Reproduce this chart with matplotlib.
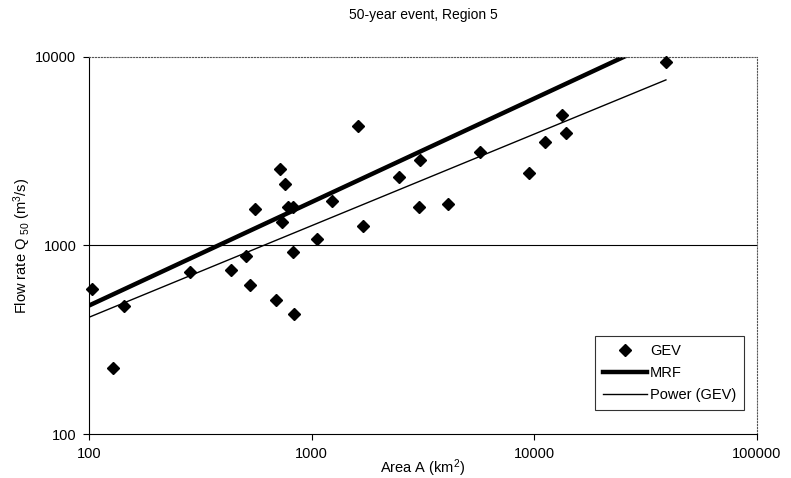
import matplotlib
matplotlib.use('Agg')
import matplotlib.pyplot as plt

plt.rcParams['font.family'] = ['Liberation Sans', 'DejaVu Sans']
plt.rcParams['mathtext.fontset'] = 'custom'
plt.rcParams['mathtext.rm'] = 'Liberation Sans'
plt.rcParams['mathtext.it'] = 'Liberation Sans'

# GEV estimates (area km2, Q50 m3/s)
gev_area = [103, 128, 143, 284, 434, 506, 530, 558, 692, 718, 761, 733, 785, 824,
            826, 833, 1057, 1237, 1615, 1694, 2472, 3080, 3020, 4075, 5700, 9420,
            11120, 13300, 13900, 39000]
gev_q = [587, 224, 477, 726, 741, 877, 615, 1556, 512, 2553, 2118, 1336, 1607, 1600,
         925, 434, 1082, 1722, 4305, 1265, 2317, 2845, 1600, 1660, 3133, 2426,
         3556, 4945, 3962, 9420]

# MRF line end points
mrf_area = [100, 30000]
mrf_q = [480, 11000]

# power trendline fitted to GEV, end points
pow_area = [100, 39000]
pow_q = [416, 7550]

fig = plt.figure(figsize=(7.91, 4.78), dpi=100)
ax = fig.add_axes([0.1125, 0.092, 0.8445, 0.789])

ax.plot(gev_area, gev_q, linestyle='none', marker='D', markersize=5.8,
        color='black', label='GEV', clip_on=False, zorder=3)
ax.plot(mrf_area, mrf_q, color='black', linewidth=3.2, label='MRF')
ax.plot(pow_area, pow_q, color='black', linewidth=1.0, label='Power (GEV)')

ax.set_xscale('log')
ax.set_yscale('log')
ax.set_xlim(100, 100000)
ax.set_ylim(100, 10000)
ax.set_xticks([100, 1000, 10000, 100000])
ax.set_xticklabels(['100', '1000', '10000', '100000'])
ax.set_yticks([100, 1000, 10000])
ax.set_yticklabels(['100', '1000', '10000'])
ax.minorticks_off()
ax.tick_params(labelsize=10.5, length=4, width=0.8, direction='out', pad=5)
ax.axhline(1000, color='black', linewidth=0.8, zorder=1)

for side in ['top', 'right']:
    ax.spines[side].set_linestyle(':')
    ax.spines[side].set_color('#555555')
    ax.spines[side].set_linewidth(0.8)
for side in ['left', 'bottom']:
    ax.spines[side].set_linewidth(0.8)

ax.set_title('50-year event, Region 5', fontsize=10, pad=27)
ax.set_xlabel('Area A (km$^2$)', fontsize=10.5, labelpad=-2)
ax.set_ylabel('Flow rate Q $_{50}$ (m$^3$/s)', fontsize=10.5, labelpad=2)

leg = ax.legend(loc='lower right', bbox_to_anchor=(0.992, 0.045), fontsize=10.5,
                frameon=True, fancybox=False, edgecolor='black',
                handlelength=3, borderpad=0.55, labelspacing=0.55, handletextpad=0.2)
leg.get_frame().set_linewidth(0.8)

fig.savefig('out.png', dpi=100)
